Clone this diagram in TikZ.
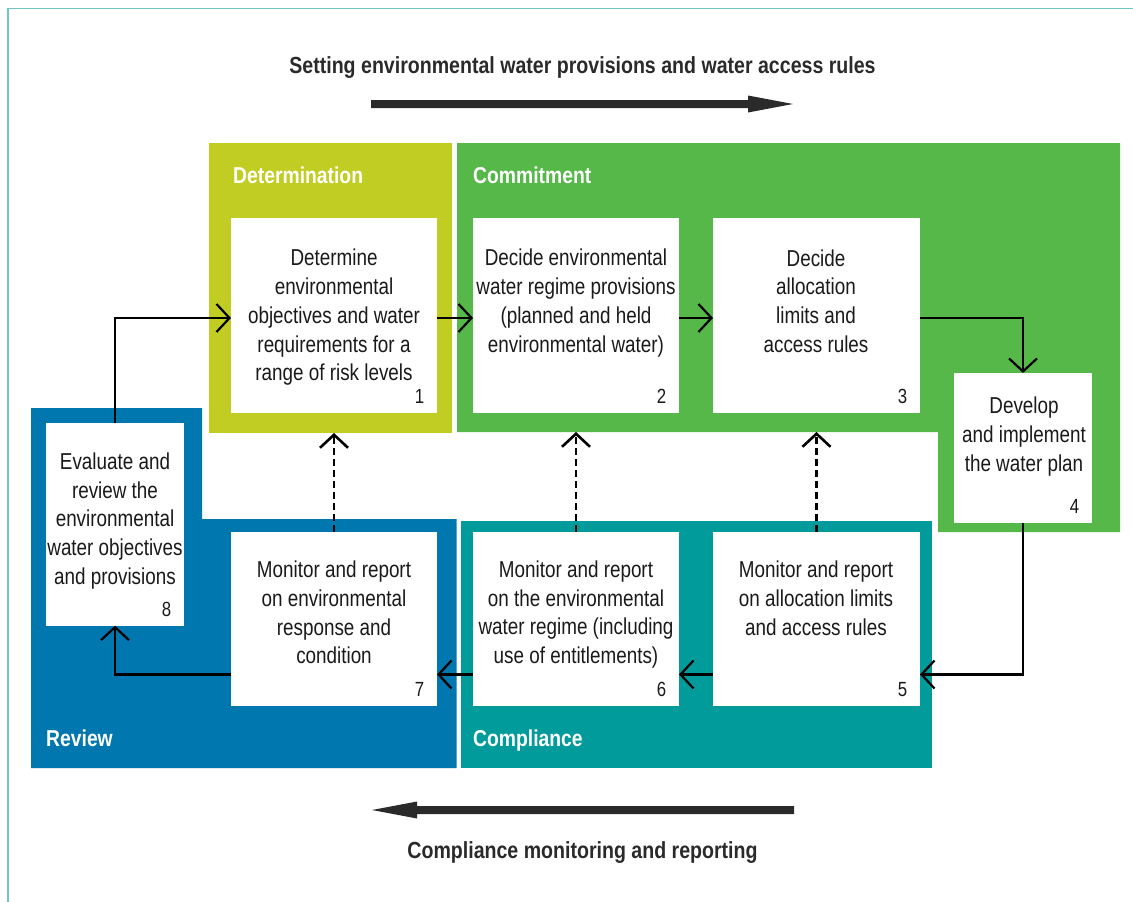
\documentclass[tikz,border=0pt]{standalone}
\usepackage{fontspec}
\newfontfamily\cf[FakeStretch=0.82]{Liberation Sans}
\newfontfamily\hf[FakeStretch=0.84]{Liberation Sans}
\usetikzlibrary{arrows.meta}
\definecolor{detc}{HTML}{C2CD23}
\definecolor{comc}{HTML}{57B84A}
\definecolor{revc}{HTML}{0077AF}
\definecolor{cplc}{HTML}{009B9A}
\definecolor{framec}{HTML}{6CC5C9}
\definecolor{darkc}{HTML}{2A2A2A}
\definecolor{textc}{HTML}{1A1A1A}
\begin{document}
\begin{tikzpicture}[x=1pt,y=-1pt,
  wbox/.style={fill=white, draw=none, inner sep=0pt, outer sep=0pt},
  btext/.style={font=\cf\fontsize{23}{28.75}\selectfont, align=center, text=textc, inner sep=0pt},
  num/.style={font=\cf\fontsize{20.5}{22}\selectfont, anchor=base east, text=textc, inner sep=0pt},
  plabel/.style={font=\hf\bfseries\fontsize{23}{28}\selectfont, text=white, anchor=base west, inner sep=0pt},
  heading/.style={font=\hf\bfseries\fontsize{23.3}{28}\selectfont, text=darkc, anchor=base, inner sep=0pt},
  conn/.style={line width=2.2pt, draw=black, -{Straight Barb[length=13pt,width=28pt]}},
  dconn/.style={conn, line width=2.6pt, dash pattern=on 7pt off 4pt}]
\useasboundingbox (0,0) rectangle (1133,902);
% frame
\draw[framec, line width=1.8pt] (8,903) -- (8,8.5) -- (1134,8.5);
% panels
\fill[detc] (209,143) rectangle (452,433);
\fill[comc] (457,143) -- (1120,143) -- (1120,532) -- (938,532) -- (938,432) -- (457,432) -- cycle;
\fill[revc] (31,408) -- (202,408) -- (202,519) -- (456.5,519) -- (456.5,768) -- (31,768) -- cycle;
\fill[cplc] (461,521) rectangle (931.5,768);
\coordinate (detbot) at (0,433);
\coordinate (combot) at (0,432);
\coordinate (row1) at (0,318);
\coordinate (row2) at (0,674.5);
% panel labels
\node[plabel] (ldet) at (233,183) {Determination};
\node[plabel] (lcom) at (473,183) {Commitment};
\node[plabel] (lrev) at (46,746.7) {Review};
\node[plabel] (lcpl) at (473,746.7) {Compliance};
% white boxes
\node[wbox, minimum width=206pt, minimum height=194.7pt] (b1) at (334,315.3) {};
\node[wbox, minimum width=206pt, minimum height=194.7pt] (b2) at (576,315.3) {};
\node[wbox, minimum width=207pt, minimum height=194.7pt] (b3) at (816.5,315.3) {};
\node[wbox, minimum width=138pt, minimum height=149.7pt] (b4) at (1023,447.8) {};
\node[wbox, minimum width=207pt, minimum height=173.7pt] (b5) at (816.5,618.8) {};
\node[wbox, minimum width=206pt, minimum height=173.7pt] (b6) at (576,618.8) {};
\node[wbox, minimum width=206pt, minimum height=173.7pt] (b7) at (334,618.8) {};
\node[wbox, minimum width=138pt, minimum height=202.7pt] (b8) at (115,524.3) {};
% texts
\node[btext] (t1) at (334,317.5) {Determine\\environmental\\objectives and water\\requirements for a\\range of risk levels};
\node[btext] (t2) at (576,303) {Decide environmental\\water regime provisions\\(planned and held\\environmental water)};
\node[btext] (t3) at (816,301) {Decide\\allocation\\limits and\\access rules};
\node[btext] (t4) at (1024,436.5) {Develop\\and implement\\the water plan};
\node[btext] (t5) at (816,598.5) {Monitor and report\\on allocation limits\\and access rules};
\node[btext] (t6) at (576,614.5) {Monitor and report\\on the environmental\\water regime (including\\use of entitlements)};
\node[btext] (t7) at (334,612.5) {Monitor and report\\on environmental\\response and\\condition};
\node[btext] (t8) at (115,521) {Evaluate and\\review the\\environmental\\water objectives\\and provisions};
% numbers
\foreach \b/\n in {b1/1,b2/2,b3/3,b4/4,b5/5,b6/6,b7/7,b8/8}
  \node[num] (n\n) at ([shift={(-12.5,-9.5)}]\b.south east) {\n};
% headings and big arrows
\node[heading] (top) at (582.5,73) {Setting environmental water provisions and water access rules};
\node[heading] (bot) at (582.5,858.5) {Compliance monitoring and reporting};
\coordinate (ta) at (371,104);
\coordinate (tb) at (793,104);
\fill[darkc] (ta) ++(0,-4) -- (748,100) -- (748,95.5) -- (tb) -- (748,112.5) -- (748,108) -- (371,108) -- cycle;
\coordinate (ba) at (794,810);
\coordinate (bb) at (372,810);
\fill[darkc] (ba) ++(0,-4) -- (417,806) -- (417,801.5) -- (bb) -- (417,818.5) -- (417,814) -- (794,814) -- cycle;
% connectors
\draw[conn] (b8.north) |- (b1.west |- row1);
\draw[conn] (b1.east |- row1) -- (b2.west |- row1);
\draw[conn] (b2.east |- row1) -- (b3.west |- row1);
\draw[conn] (b3.east |- row1) -| (b4.north);
\draw[conn] (b4.south) |- (b5.east |- row2);
\draw[conn] (b5.west |- row2) -- (b6.east |- row2);
\draw[conn] (b6.west |- row2) -- (b7.east |- row2);
\draw[conn] (b7.west |- row2) -| (b8.south);
\draw[dconn] (b7.north) -- (b7.north |- detbot);
\draw[dconn] (b6.north) -- (b6.north |- combot);
\draw[dconn] (b5.north) -- (b5.north |- combot);
\end{tikzpicture}
\end{document}
